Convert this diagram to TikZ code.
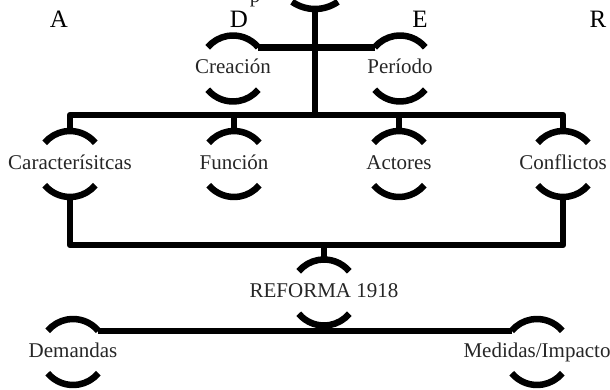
\documentclass[tikz,border=0pt]{standalone}
\usepackage{fontspec}
\setmainfont{Liberation Serif}
\usetikzlibrary{calc}
\tikzset{
  lbl/.style={font=\fontsize{21}{21}\selectfont, inner sep=0pt, anchor=base, text=black!85},
  letter/.style={font=\fontsize{25}{25}\selectfont, inner sep=0pt, anchor=base},
  bar/.style={line width=6.5pt, line join=round},
  brk/.style={line width=6.5pt},
}
% #1 name, #2 x, #3 circle centre y (measured downwards), #4 text
\newcommand\bnode[4]{%
  \coordinate (#1-c) at (#2, {389-#3});
  \node[lbl] (#1) at (#2, {389-#3-5}) {#4};
  \draw[brk] ([shift={(40:33)}]#1-c) arc (40:140:33);
  \draw[brk] ([shift={(220:33)}]#1-c) arc (220:320:33);
  \coordinate (#1-t) at ([yshift=33pt]#1-c);
  \coordinate (#1-b) at ([yshift=-33pt]#1-c);
  \coordinate (#1-tr) at ([shift={(40:33)}]#1-c);
  \coordinate (#1-tl) at ([shift={(140:33)}]#1-c);
}
\begin{document}
\begin{tikzpicture}[x=1pt,y=1pt]
\useasboundingbox (0,0) rectangle (610,389);
% letters on top
\node[letter] (la) at (59,361) {A};
\node[letter] (ld) at (239,361) {D};
\node[letter] (le) at (420,361) {E};
\node[letter] (lr) at (598,361) {R};
\node[lbl] (ptext) at (255,386) {p};
% top node (only its lower arc is visible)
\coordinate (top-c) at (315,420);
\draw[brk] ([shift={(235:40)}]top-c) arc (235:305:40);
\coordinate (top-b) at ([yshift=-40pt]top-c);
% nodes
\bnode{cre}{233}{68.5}{Creación}
\bnode{per}{400}{68.5}{Período}
\bnode{car}{70}{164}{Caracterísitcas}
\bnode{fun}{234}{164}{Función}
\bnode{act}{399}{164}{Actores}
\bnode{con}{563}{164}{Conflictos}
\bnode{ref}{324}{292.5}{REFORMA 1918}
\bnode{dem}{73}{352}{Demandas}
\bnode{med}{537}{352}{Medidas/Impacto}
% buses
\coordinate (ubus) at (315,274);
\coordinate (lbus) at (324,144);
\draw[bar] (cre-tr) -- (per-tl);
\draw[bar] (top-b) -- (ubus);
\draw[bar] (car-t) |- (ubus) -| (con-t);
\draw[bar] (fun-t) -- (fun-t |- ubus);
\draw[bar] (act-t) -- (act-t |- ubus);
\draw[bar] (car-b) |- (lbus) -| (con-b);
\draw[bar] (lbus) -- (ref-t);
\draw[bar] (dem-tr) -- (med-tl);
\end{tikzpicture}
\end{document}
